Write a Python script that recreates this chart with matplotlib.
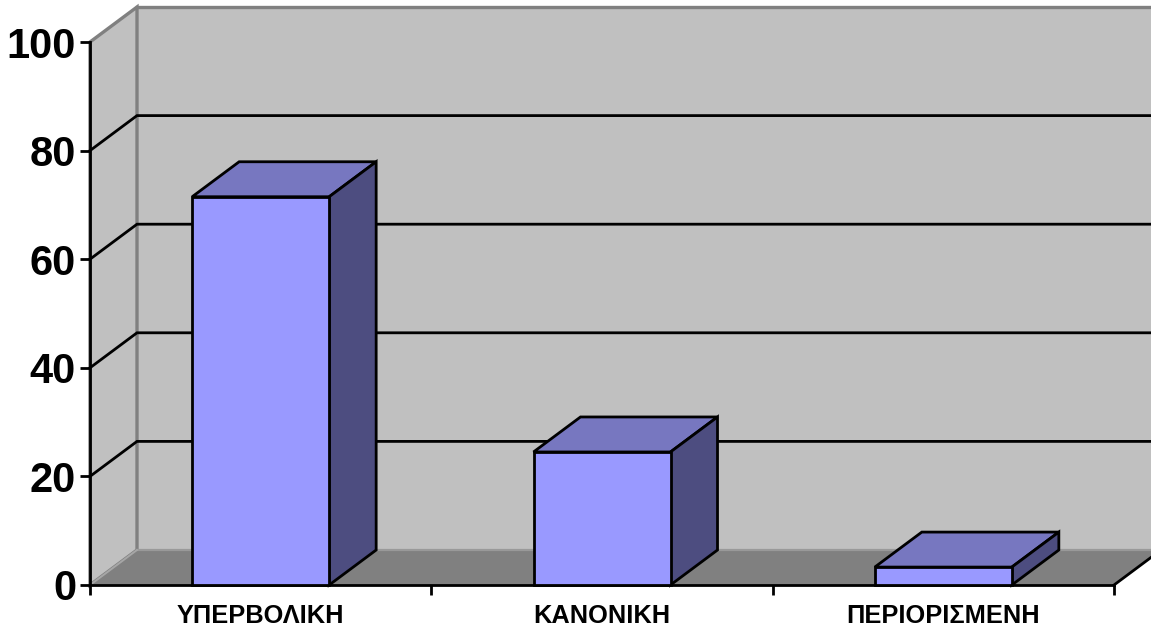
import matplotlib
matplotlib.use("Agg")
import matplotlib.pyplot as plt
from matplotlib.patches import Polygon

categories = ["ΥΠΕΡΒΟΛΙΚΗ", "ΚΑΝΟΝΙΚΗ", "ΠΕΡΙΟΡΙΣΜΕΝΗ"]
values = [71.5, 24.5, 3.3]
yticks = [0, 20, 40, 60, 80, 100]

W, H = 1151, 629
plt.rcParams['font.family'] = ['Liberation Sans', 'DejaVu Sans']
fig = plt.figure(figsize=(W/100, H/100), dpi=100, facecolor='white')
L, R, B, T = 90, 1114, 585, 42
ax = fig.add_axes([L/W, 1-B/H, (R-L)/W, (B-T)/H])
ax.set_xlim(0, len(categories))
ax.set_ylim(0, 100)
ax.patch.set_visible(False)
for s in ax.spines.values():
    s.set_visible(False)

DX = 47/((R-L)/len(categories))
DY = 35/((B-T)/100)
BW = 137/((R-L)/len(categories))
n = len(categories)
LW = 2.0
GRAY = '#808080'

def poly(pts, fc, ec='black', lw=LW, z=2):
    ax.add_patch(Polygon(pts, closed=True, facecolor=fc, edgecolor=ec, linewidth=lw,
                         zorder=z, clip_on=False, joinstyle='miter'))

# walls
poly([(DX, DY), (n+DX+0.2, DY), (n+DX+0.2, 100+DY), (DX, 100+DY)], '#c0c0c0', ec='none', lw=0, z=1)
poly([(0, 0), (DX, DY), (DX, 100+DY), (0, 100)], '#c0c0c0', ec=GRAY, lw=2.4, z=1.2)
ax.plot([DX, n+DX+0.2], [100+DY, 100+DY], color=GRAY, lw=2.4, zorder=1.2, clip_on=False)
# floor
poly([(0, 0), (n, 0), (n+DX, DY), (DX, DY)], GRAY, ec='none', lw=0, z=1.3)
ax.plot([DX, n+DX+0.2], [DY, DY], color='#999999', lw=1.6, zorder=1.35, clip_on=False)
ax.plot([0, DX], [0, DY], color='#a6a6a6', lw=1.4, zorder=1.4, clip_on=False)

# gridlines
for v in yticks[1:-1]:
    ax.plot([0, DX, n+DX+0.2], [v, v+DY, v+DY], color='black', lw=LW, zorder=1.5,
            clip_on=False, solid_joinstyle='miter')

# axes lines
ax.plot([0, 0], [0, 100], color='black', lw=LW, zorder=3, clip_on=False)
ax.plot([0, n], [0, 0], color='black', lw=LW, zorder=3, clip_on=False)
ax.plot([n, n+DX], [0, DY], color='black', lw=LW, zorder=3, clip_on=False)

# bars
for i, v in enumerate(values):
    c = i + 0.5
    x0, x1 = c - BW/2, c + BW/2
    poly([(x0, v), (x1, v), (x1+DX, v+DY), (x0+DX, v+DY)], '#7777c0', z=4)
    poly([(x1, 0), (x1+DX, DY), (x1+DX, v+DY), (x1, v)], '#4d4d80', z=4)
    poly([(x0, 0), (x1, 0), (x1, v), (x0, v)], '#9999ff', z=5)

ax.set_yticks(yticks)
ax.set_yticklabels([str(t) for t in yticks], fontsize=30, fontweight='bold')
ax.set_xticks(range(n+1))
ax.set_xticklabels([''] * (n+1))
ax.tick_params(axis='y', length=7, width=LW, pad=3, color='black')
ax.tick_params(axis='x', length=7, width=LW, color='black')
for i, name in enumerate(categories):
    ax.text(i+0.5, -5.65, name, ha='center', va='center', fontsize=18.3, fontweight='bold',
            clip_on=False)

fig.savefig('out.png', dpi=100)
